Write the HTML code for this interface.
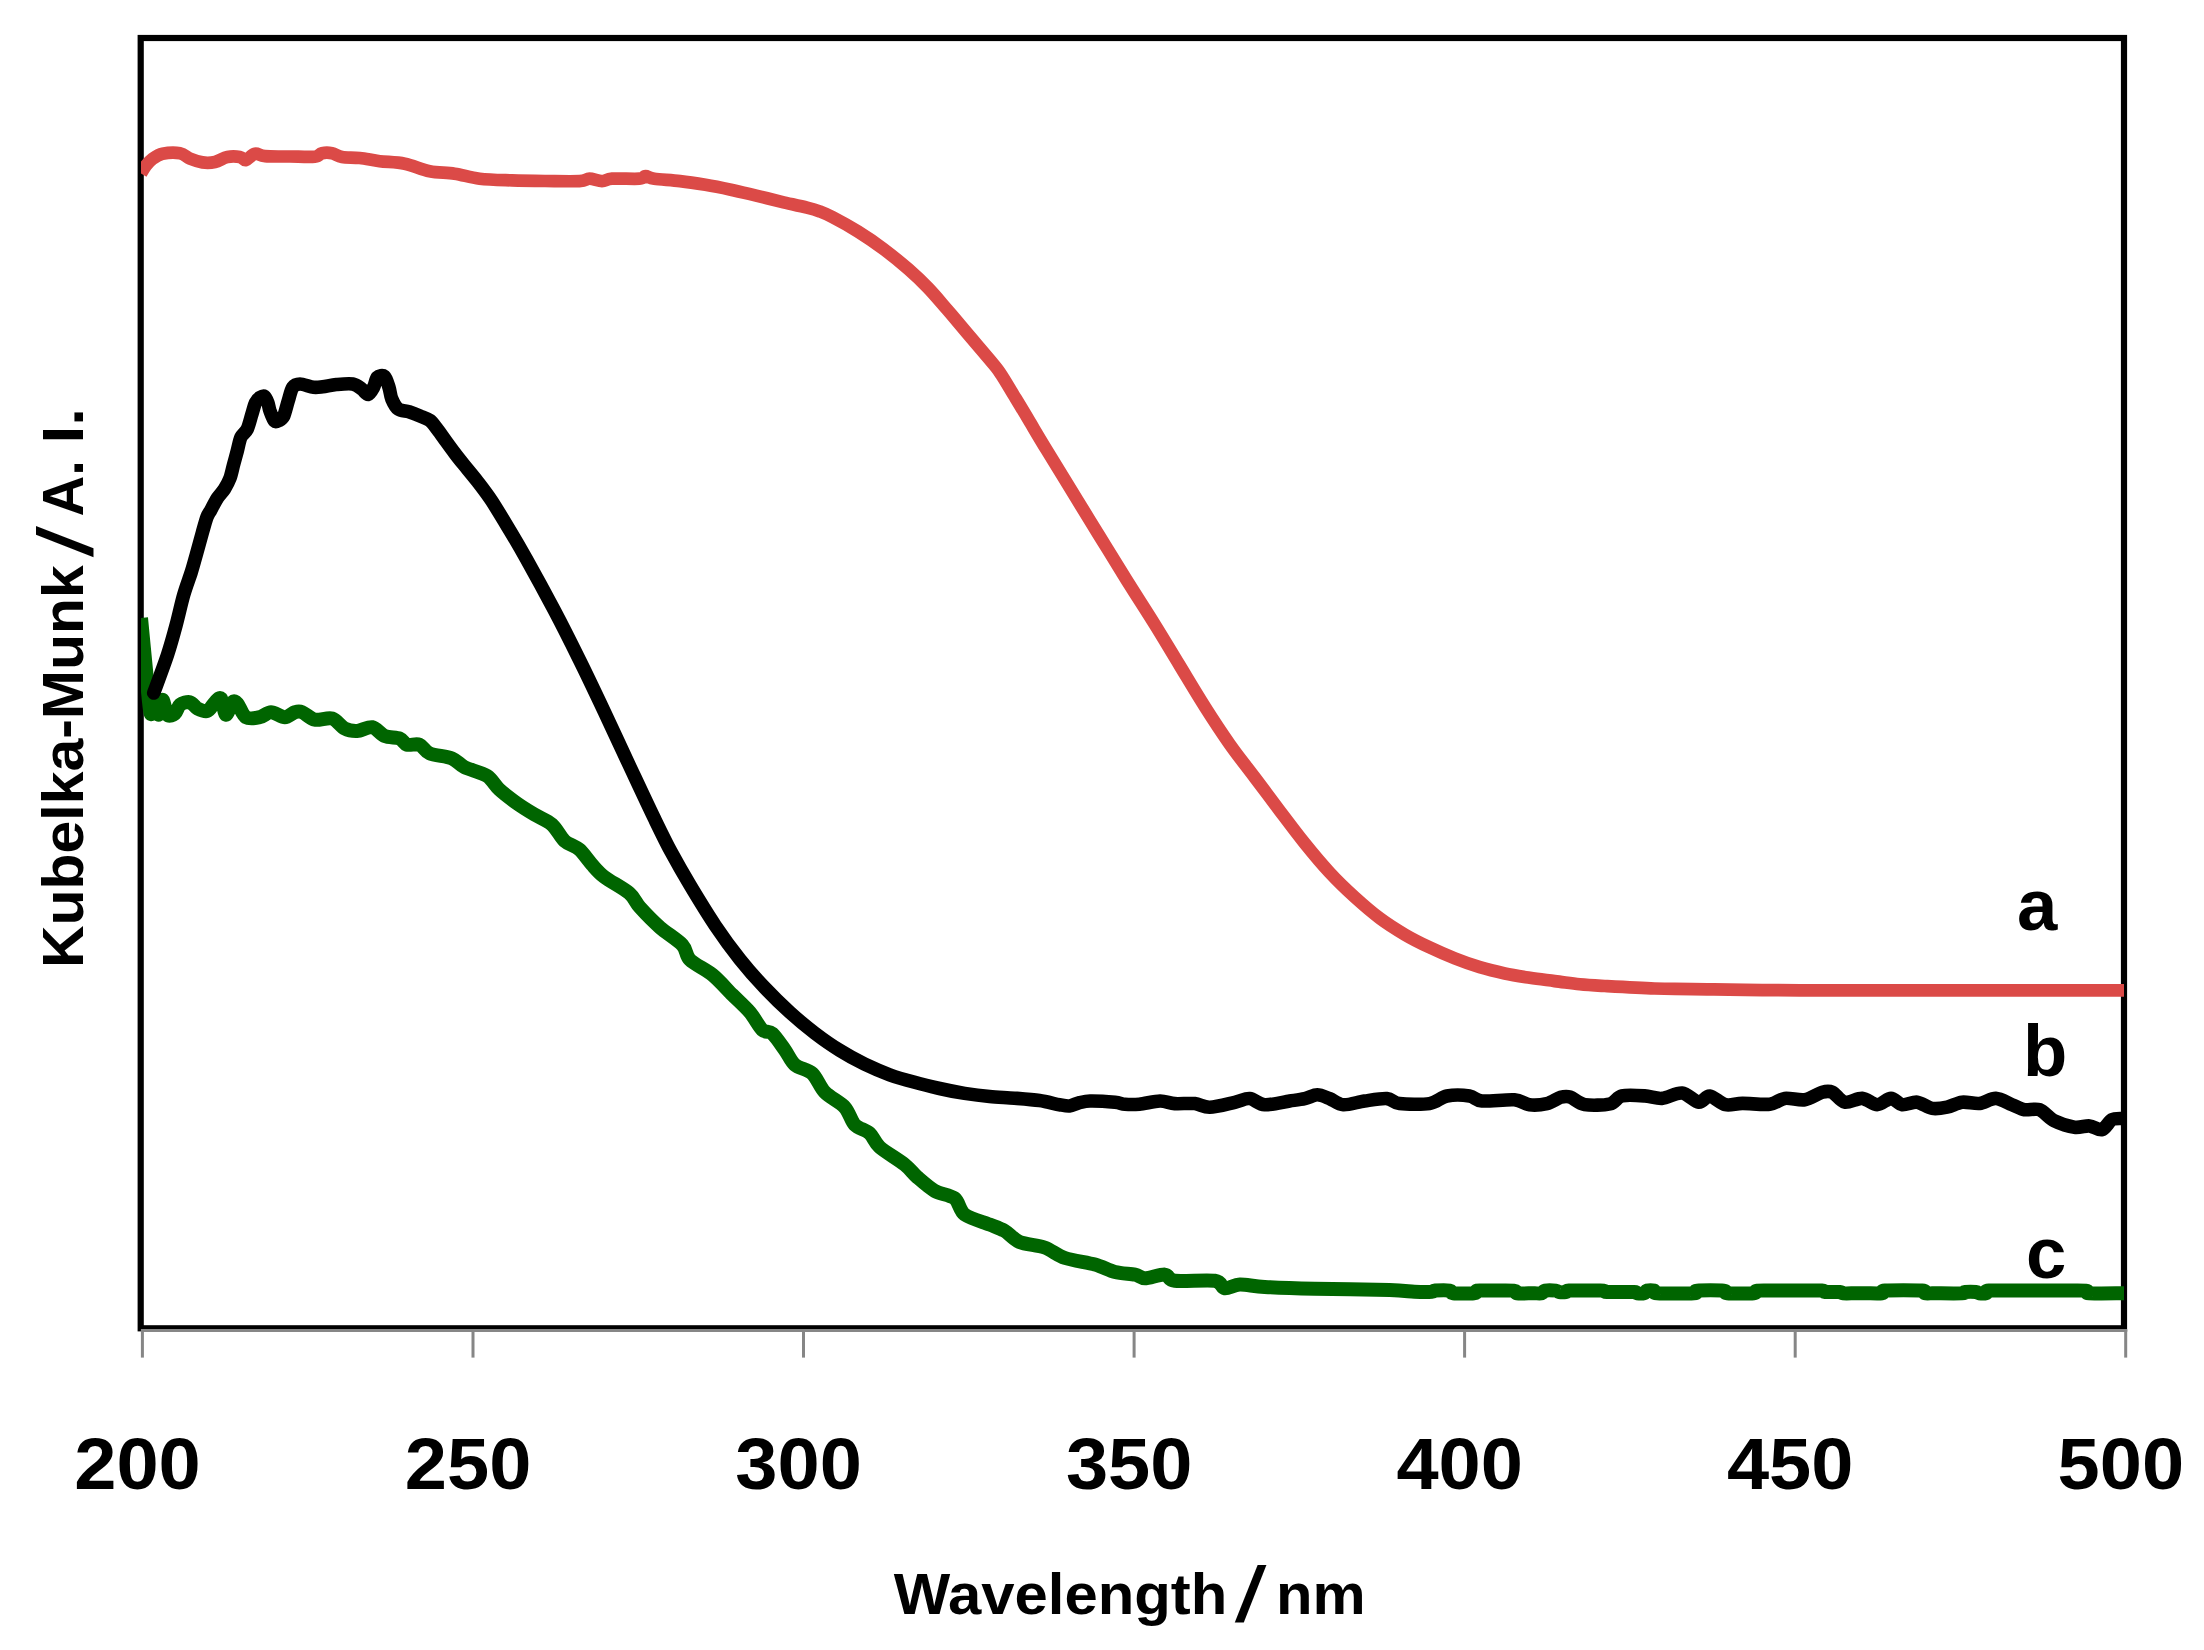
<!DOCTYPE html>
<html lang="en"><head><meta charset="utf-8"><title>Kubelka-Munk spectra</title>
<style>html,body{margin:0;padding:0;background:#fff;}svg{display:block;}</style>
</head><body>
<svg width="2204" height="1650" viewBox="0 0 2204 1650">
<rect x="0" y="0" width="2204" height="1650" fill="#fff"/>
<rect x="140.7" y="38" width="1983.3" height="1290.3" fill="none" stroke="#000" stroke-width="6.2"/>
<clipPath id="plot"><rect x="141" y="41" width="1983" height="1285"/></clipPath>
<g fill="none" stroke-linejoin="round" clip-path="url(#plot)">
<path d="M141.0 173.5 C141.8 172.2 144.1 167.9 146.0 165.5 C147.9 163.1 149.8 160.9 152.5 158.9 C155.2 156.9 157.9 154.6 162.5 153.7 C167.1 152.8 175.4 152.4 180.0 153.2 C184.6 154.0 186.3 157.2 190.0 158.7 C193.7 160.2 198.2 161.8 202.4 162.4 C206.6 163.0 210.8 162.9 215.0 162.0 C219.2 161.1 223.2 157.8 227.4 157.0 C231.6 156.2 236.9 156.5 240.0 157.0 C243.1 157.5 243.5 160.6 246.0 160.0 C248.5 159.4 251.8 154.3 255.0 153.7 C258.2 153.1 259.2 155.7 265.0 156.2 C270.8 156.7 281.7 156.4 290.0 156.5 C298.3 156.6 309.5 157.2 314.8 156.7 C320.1 156.1 319.1 153.8 322.0 153.2 C324.9 152.6 328.7 152.6 332.0 153.2 C335.3 153.8 337.4 156.2 342.0 157.0 C346.6 157.8 353.4 157.3 359.7 158.0 C366.0 158.7 372.2 160.2 379.7 161.2 C387.2 162.1 396.4 162.0 404.7 163.7 C413.0 165.4 421.3 169.5 429.6 171.2 C437.9 172.9 446.3 172.4 454.6 173.7 C462.9 174.9 470.0 177.6 479.6 178.7 C489.2 179.8 501.1 180.0 512.0 180.4 C522.9 180.8 533.8 180.9 545.0 181.0 C556.2 181.1 572.0 181.5 579.4 181.1 C586.8 180.7 585.6 178.7 589.4 178.7 C593.2 178.7 598.2 181.1 602.0 181.1 C605.8 181.1 605.8 179.1 612.0 178.7 C618.2 178.3 633.8 179.1 639.4 178.7 C645.0 178.3 643.1 176.2 645.6 176.2 C648.1 176.2 648.6 177.9 654.3 178.7 C660.0 179.5 671.5 180.1 680.0 181.1 C688.5 182.1 696.9 183.4 705.4 184.8 C713.9 186.2 722.3 187.9 730.8 189.7 C739.3 191.5 747.7 193.6 756.2 195.6 C764.7 197.6 773.1 199.7 781.6 201.8 C790.1 203.8 800.6 206.1 807.0 207.7 C813.4 209.3 815.5 209.9 819.8 211.4 C824.0 213.0 826.1 213.8 832.5 217.1 C838.9 220.4 849.4 226.2 857.9 231.5 C866.4 236.8 874.8 242.5 883.3 248.8 C891.8 255.2 901.3 263.0 908.7 269.4 C916.1 275.9 921.4 280.9 927.7 287.5 C934.1 294.1 940.3 301.6 946.8 309.1 C953.3 316.7 959.0 323.6 966.7 332.7 C974.5 341.9 987.5 357.0 993.3 364.0 C999.1 371.0 997.9 369.6 1001.3 374.7 C1004.7 379.8 1008.9 387.1 1013.5 394.7 C1018.1 402.3 1023.4 411.0 1028.9 420.3 C1034.4 429.5 1040.7 440.2 1046.7 450.0 C1052.7 459.9 1057.5 467.6 1064.8 479.5 C1072.0 491.3 1083.1 509.4 1090.2 521.0 C1097.3 532.6 1100.9 538.3 1107.5 549.0 C1114.1 559.7 1122.1 572.8 1130.0 585.4 C1137.9 598.0 1146.5 611.1 1154.8 624.5 C1163.1 637.8 1171.5 652.0 1179.8 665.6 C1188.1 679.3 1196.5 693.5 1204.8 706.6 C1213.1 719.7 1221.5 732.5 1229.8 744.3 C1238.1 756.1 1246.4 766.3 1254.7 777.4 C1263.0 788.4 1271.4 799.7 1279.7 810.7 C1288.0 821.7 1296.4 833.0 1304.7 843.3 C1313.0 853.6 1321.2 863.5 1329.6 872.5 C1338.0 881.6 1346.6 889.8 1355.0 897.4 C1363.4 905.0 1371.7 912.2 1380.0 918.4 C1388.3 924.6 1396.7 929.8 1405.0 934.7 C1413.3 939.6 1421.7 943.7 1430.0 947.6 C1438.3 951.6 1446.5 955.1 1454.8 958.4 C1463.1 961.7 1471.5 964.7 1479.8 967.2 C1488.1 969.7 1496.5 971.7 1504.8 973.5 C1513.1 975.3 1521.5 976.5 1529.8 977.8 C1538.1 979.1 1546.4 980.0 1554.7 981.1 C1563.0 982.1 1571.4 983.4 1579.7 984.3 C1588.0 985.1 1592.2 985.3 1604.7 986.0 C1617.2 986.7 1640.0 988.0 1654.6 988.5 C1669.1 989.0 1667.8 988.8 1692.0 989.1 C1716.2 989.3 1728.0 990.1 1800.0 990.3 C1872.0 990.5 2070.0 990.3 2124.0 990.3" stroke="#DB4A47" stroke-width="12.7" stroke-linecap="butt"/>
<path d="M141.0 618.0 C141.8 625.8 144.6 655.8 146.0 670.0 C147.4 684.2 149.2 707.8 150.5 713.0 C151.8 718.2 153.8 704.4 155.0 704.7 C156.2 705.0 157.6 715.4 158.7 714.7 C159.8 714.0 161.2 699.8 162.5 699.8 C163.8 699.8 165.6 712.6 167.5 714.7 C169.4 716.8 173.1 715.0 175.0 713.5 C176.9 712.0 177.8 706.4 180.0 704.7 C182.2 703.0 187.4 701.6 190.0 702.2 C192.6 702.8 194.8 707.2 197.4 708.5 C200.0 709.8 204.8 711.9 207.4 711.0 C210.0 710.1 213.0 704.1 215.0 702.2 C217.0 700.3 219.3 696.6 221.0 698.5 C222.7 700.4 224.3 714.1 226.0 714.7 C227.7 715.3 230.7 703.9 232.4 702.2 C234.1 700.5 235.4 701.2 237.4 703.5 C239.4 705.8 242.6 715.1 246.0 717.2 C249.4 719.3 256.1 718.0 259.8 717.2 C263.6 716.5 267.2 712.2 271.0 712.2 C274.8 712.2 281.2 717.2 284.8 717.2 C288.4 717.2 292.2 713.0 294.8 712.2 C297.4 711.5 299.3 711.1 302.3 712.2 C305.3 713.3 310.3 718.8 314.8 719.7 C319.3 720.6 327.7 717.2 332.2 718.5 C336.7 719.8 340.9 726.6 344.7 728.5 C348.4 730.4 353.1 731.2 357.2 731.0 C361.3 730.8 368.1 726.5 372.2 727.2 C376.3 728.0 380.6 734.3 384.7 736.0 C388.8 737.7 396.4 737.2 399.7 738.5 C403.0 739.8 404.0 743.8 407.0 744.7 C410.0 745.6 416.2 743.4 419.6 744.7 C423.0 746.0 424.7 751.3 429.6 753.4 C434.5 755.5 446.8 756.3 452.0 758.4 C457.2 760.5 459.4 764.6 464.6 767.2 C469.9 769.8 481.8 772.5 487.0 775.9 C492.2 779.3 495.0 785.5 499.5 789.6 C504.0 793.7 511.8 799.6 517.0 803.4 C522.2 807.1 529.2 811.4 534.5 814.6 C539.8 817.8 547.5 820.7 552.0 824.6 C556.5 828.5 560.4 837.0 564.5 840.8 C568.6 844.5 575.3 846.0 579.4 849.6 C583.5 853.2 588.1 860.4 591.9 864.5 C595.6 868.6 598.8 872.7 604.4 877.0 C610.0 881.3 624.1 888.7 629.4 893.3 C634.7 897.9 635.4 902.3 640.0 907.4 C644.6 912.5 653.6 921.8 660.0 927.4 C666.4 933.0 677.9 940.0 682.4 944.9 C686.9 949.8 685.5 955.4 690.0 959.9 C694.5 964.4 706.0 969.6 712.4 974.8 C718.8 980.0 726.8 989.2 732.4 994.8 C738.0 1000.4 745.4 1007.0 749.9 1012.3 C754.4 1017.5 758.9 1026.6 762.3 1029.8 C765.7 1033.0 768.9 1030.5 772.3 1033.5 C775.7 1036.5 781.4 1045.1 784.8 1049.8 C788.2 1054.5 790.7 1061.1 794.8 1064.7 C798.9 1068.3 807.8 1069.4 812.3 1073.5 C816.8 1077.6 819.9 1087.1 824.8 1092.2 C829.7 1097.3 840.2 1102.3 844.7 1107.2 C849.2 1112.1 851.0 1120.8 854.7 1124.7 C858.5 1128.6 866.0 1130.0 869.7 1133.4 C873.5 1136.8 874.5 1142.4 879.7 1147.1 C885.0 1151.8 899.1 1160.1 904.7 1164.6 C910.3 1169.1 912.7 1173.2 917.2 1177.1 C921.7 1181.0 929.0 1187.6 934.6 1190.8 C940.2 1194.0 950.1 1194.7 954.6 1198.3 C959.1 1201.9 959.4 1210.6 964.6 1214.5 C969.9 1218.4 983.6 1222.1 989.6 1224.5 C995.6 1226.9 1000.0 1228.2 1004.5 1230.8 C1009.0 1233.4 1013.5 1239.5 1019.5 1242.0 C1025.5 1244.5 1037.7 1245.1 1044.5 1247.5 C1051.3 1249.9 1057.4 1255.4 1065.0 1258.0 C1072.6 1260.6 1087.5 1262.5 1095.0 1264.6 C1102.5 1266.7 1109.0 1270.5 1115.0 1272.0 C1121.0 1273.5 1130.5 1273.7 1135.0 1274.6 C1139.5 1275.5 1140.5 1278.3 1145.0 1278.3 C1149.5 1278.3 1160.3 1274.2 1164.8 1274.6 C1169.3 1275.0 1167.3 1279.9 1174.8 1280.8 C1182.3 1281.7 1207.3 1279.7 1214.8 1280.8 C1222.3 1281.9 1221.0 1287.7 1224.8 1288.3 C1228.5 1288.9 1233.8 1284.8 1239.8 1284.6 C1245.8 1284.4 1253.5 1286.4 1264.7 1287.0 C1275.9 1287.6 1296.0 1288.3 1314.7 1288.8 C1333.4 1289.2 1374.6 1289.6 1389.6 1290.0 C1404.6 1290.4 1408.1 1291.4 1414.5 1291.7 C1420.9 1292.0 1428.9 1292.0 1432.0 1291.8 C1435.1 1291.6 1432.3 1290.8 1435.0 1290.6 C1437.7 1290.4 1447.3 1290.2 1450.0 1290.6 C1452.7 1291.0 1449.4 1292.9 1453.0 1293.3 C1456.6 1293.7 1470.4 1293.7 1474.0 1293.3 C1477.6 1292.9 1475.5 1291.0 1477.0 1290.6 C1478.5 1290.2 1482.5 1290.6 1484.0 1290.6 C1485.5 1290.6 1482.5 1290.6 1487.0 1290.6 C1491.5 1290.6 1509.5 1290.2 1514.0 1290.6 C1518.5 1291.0 1514.3 1292.9 1517.0 1293.3 C1519.7 1293.7 1529.3 1293.3 1532.0 1293.3 C1534.7 1293.3 1533.5 1293.3 1535.0 1293.3 C1536.5 1293.3 1540.5 1293.7 1542.0 1293.3 C1543.5 1292.9 1542.9 1291.0 1545.0 1290.6 C1547.1 1290.2 1553.9 1290.4 1556.0 1290.6 C1558.1 1290.8 1557.5 1291.8 1559.0 1292.0 C1560.5 1292.2 1564.5 1292.2 1566.0 1292.0 C1567.5 1291.8 1565.4 1290.8 1569.0 1290.6 C1572.6 1290.4 1586.4 1290.6 1590.0 1290.6 C1593.6 1290.6 1590.9 1290.6 1593.0 1290.6 C1595.1 1290.6 1601.9 1290.4 1604.0 1290.6 C1606.1 1290.8 1602.5 1291.8 1607.0 1292.0 C1611.5 1292.2 1629.5 1291.8 1634.0 1292.0 C1638.5 1292.2 1635.5 1293.1 1637.0 1293.3 C1638.5 1293.5 1642.5 1293.7 1644.0 1293.3 C1645.5 1292.9 1645.5 1291.0 1647.0 1290.6 C1648.5 1290.2 1652.5 1290.2 1654.0 1290.6 C1655.5 1291.0 1651.0 1292.9 1657.0 1293.3 C1663.0 1293.7 1688.0 1293.7 1694.0 1293.3 C1700.0 1292.9 1692.5 1291.0 1697.0 1290.6 C1701.5 1290.2 1719.5 1290.2 1724.0 1290.6 C1728.5 1291.0 1722.5 1292.9 1727.0 1293.3 C1731.5 1293.7 1749.5 1293.7 1754.0 1293.3 C1758.5 1292.9 1753.4 1291.0 1757.0 1290.6 C1760.6 1290.2 1774.4 1290.6 1778.0 1290.6 C1781.6 1290.6 1778.9 1290.6 1781.0 1290.6 C1783.1 1290.6 1789.9 1290.6 1792.0 1290.6 C1794.1 1290.6 1790.5 1290.6 1795.0 1290.6 C1799.5 1290.6 1817.5 1290.4 1822.0 1290.6 C1826.5 1290.8 1822.3 1291.8 1825.0 1292.0 C1827.7 1292.2 1837.3 1291.8 1840.0 1292.0 C1842.7 1292.2 1840.9 1293.1 1843.0 1293.3 C1845.1 1293.5 1851.9 1293.3 1854.0 1293.3 C1856.1 1293.3 1855.5 1293.3 1857.0 1293.3 C1858.5 1293.3 1862.5 1293.3 1864.0 1293.3 C1865.5 1293.3 1864.3 1293.3 1867.0 1293.3 C1869.7 1293.3 1879.3 1293.7 1882.0 1293.3 C1884.7 1292.9 1879.0 1291.0 1885.0 1290.6 C1891.0 1290.2 1916.0 1290.2 1922.0 1290.6 C1928.0 1291.0 1923.5 1292.9 1925.0 1293.3 C1926.5 1293.7 1930.5 1293.3 1932.0 1293.3 C1933.5 1293.3 1930.5 1293.3 1935.0 1293.3 C1939.5 1293.3 1957.5 1293.5 1962.0 1293.3 C1966.5 1293.1 1962.9 1292.2 1965.0 1292.0 C1967.1 1291.8 1973.9 1291.8 1976.0 1292.0 C1978.1 1292.2 1977.5 1293.1 1979.0 1293.3 C1980.5 1293.5 1984.5 1293.7 1986.0 1293.3 C1987.5 1292.9 1983.0 1291.0 1989.0 1290.6 C1995.0 1290.2 2020.0 1290.6 2026.0 1290.6 C2032.0 1290.6 2024.5 1290.6 2029.0 1290.6 C2033.5 1290.6 2051.5 1290.6 2056.0 1290.6 C2060.5 1290.6 2054.5 1290.6 2059.0 1290.6 C2063.5 1290.6 2081.5 1290.2 2086.0 1290.6 C2090.5 1291.0 2083.3 1292.9 2089.0 1293.3 C2094.7 1293.7 2118.8 1293.2 2124.0 1293.2" stroke="#006500" stroke-width="14" stroke-linecap="butt"/>
<path d="M153.7 693.0 C155.8 687.3 164.1 665.0 167.5 654.8 C170.9 644.6 173.8 633.8 176.2 624.8 C178.6 615.8 181.4 602.8 183.7 594.9 C185.9 587.0 189.3 578.4 191.2 572.4 C193.1 566.4 194.5 561.0 196.2 555.0 C197.9 549.0 200.8 538.2 202.4 532.5 C204.0 526.8 205.7 520.4 207.0 517.0 C208.3 513.6 209.4 512.8 210.9 510.0 C212.4 507.2 215.3 501.3 217.3 498.2 C219.3 495.1 222.6 492.0 224.5 489.0 C226.4 486.0 228.6 481.9 230.0 478.2 C231.4 474.5 232.5 468.6 233.6 464.5 C234.7 460.4 236.2 455.0 237.3 450.9 C238.4 446.8 239.4 440.6 240.9 437.3 C242.4 434.0 245.7 432.4 247.3 429.0 C248.9 425.6 250.6 418.4 251.8 414.5 C253.0 410.6 254.3 405.2 255.5 402.7 C256.7 400.1 258.6 398.4 260.0 397.5 C261.4 396.6 263.3 395.6 264.5 396.4 C265.7 397.2 267.2 400.8 268.0 403.0 C268.8 405.2 269.0 408.3 270.0 411.0 C271.0 413.7 273.1 419.6 274.5 421.0 C275.9 422.4 277.6 421.2 279.0 420.5 C280.4 419.8 282.2 419.3 283.6 416.4 C285.0 413.5 286.8 405.4 288.2 401.0 C289.6 396.6 290.9 389.9 292.7 387.3 C294.5 384.8 296.9 384.0 300.0 384.0 C303.1 384.0 310.2 386.9 313.6 387.3 C317.0 387.7 319.3 387.2 322.7 386.8 C326.1 386.4 331.9 384.9 336.4 384.5 C340.9 384.1 348.9 383.3 352.7 384.0 C356.5 384.7 359.5 387.4 361.8 389.0 C364.1 390.6 366.4 394.8 368.2 394.5 C370.0 394.2 372.2 389.9 373.6 387.3 C375.0 384.7 375.7 378.9 377.3 377.3 C378.9 375.7 382.7 374.9 384.5 376.4 C386.3 377.9 387.9 383.9 389.0 387.3 C390.1 390.7 390.4 395.7 391.8 399.0 C393.2 402.3 395.6 407.1 398.2 409.0 C400.8 410.9 405.7 410.8 409.0 411.8 C412.3 412.9 416.9 414.7 420.0 416.0 C423.1 417.3 427.4 418.5 430.0 420.5 C432.6 422.5 435.1 426.4 437.5 429.5 C439.9 432.6 443.4 437.7 446.0 441.3 C448.6 444.9 452.4 450.1 455.0 453.5 C457.6 457.0 460.1 460.1 463.5 464.3 C466.9 468.5 473.4 476.2 477.6 481.6 C481.8 487.1 486.4 493.0 491.3 500.3 C496.2 507.7 504.7 521.9 510.0 530.7 C515.3 539.5 519.7 547.0 526.4 559.0 C533.1 571.0 546.5 595.5 554.5 610.6 C562.5 625.7 571.9 644.5 579.4 659.7 C586.9 674.8 596.9 695.9 604.4 711.8 C611.9 727.7 621.9 749.5 629.4 765.5 C636.9 781.5 648.0 805.4 654.3 818.3 C660.6 831.3 665.8 842.1 671.2 852.1 C676.6 862.1 683.4 874.1 690.0 885.1 C696.6 896.1 707.5 914.1 715.0 925.2 C722.5 936.4 732.5 950.0 740.0 959.4 C747.5 968.8 757.3 979.9 764.8 987.8 C772.3 995.8 782.3 1005.5 789.8 1012.3 C797.3 1019.1 807.3 1027.4 814.8 1033.1 C822.3 1038.8 832.3 1045.8 839.8 1050.4 C847.3 1055.1 857.2 1060.5 864.7 1064.2 C872.2 1067.8 882.2 1072.1 889.7 1074.8 C897.2 1077.5 907.2 1080.3 914.7 1082.3 C922.2 1084.4 932.1 1086.8 939.6 1088.5 C947.1 1090.2 957.1 1092.2 964.6 1093.4 C972.1 1094.6 982.1 1095.9 989.6 1096.6 C997.1 1097.3 1007.0 1097.6 1014.5 1098.2 C1022.0 1098.8 1032.8 1099.6 1039.5 1100.6 C1046.2 1101.5 1055.0 1103.9 1059.5 1104.7 C1064.0 1105.5 1066.5 1106.2 1069.5 1105.9 C1072.5 1105.6 1076.4 1103.4 1079.5 1102.7 C1082.6 1102.0 1084.7 1101.1 1090.0 1101.0 C1095.3 1100.9 1109.8 1101.8 1115.0 1102.3 C1120.2 1102.8 1121.3 1104.0 1125.0 1104.3 C1128.7 1104.6 1134.2 1104.7 1139.4 1104.2 C1144.7 1103.7 1154.7 1101.1 1160.0 1101.0 C1165.3 1100.9 1169.6 1103.2 1174.8 1103.6 C1180.0 1104.0 1189.5 1103.0 1194.8 1103.6 C1200.0 1104.2 1203.8 1107.5 1209.8 1107.3 C1215.8 1107.1 1228.8 1103.6 1234.8 1102.3 C1240.8 1101.0 1245.2 1098.2 1249.7 1098.6 C1254.2 1099.0 1258.7 1104.4 1264.7 1104.8 C1270.7 1105.2 1283.7 1101.9 1289.7 1101.0 C1295.7 1100.1 1300.6 1099.5 1304.7 1098.6 C1308.8 1097.7 1313.5 1094.8 1317.2 1094.8 C1320.9 1094.8 1325.7 1097.1 1329.6 1098.6 C1333.5 1100.1 1338.2 1104.4 1343.4 1104.8 C1348.7 1105.2 1358.1 1101.9 1364.6 1101.0 C1371.1 1100.1 1381.8 1098.2 1387.0 1098.6 C1392.2 1099.0 1393.1 1102.8 1399.5 1103.6 C1405.9 1104.3 1422.4 1104.7 1429.5 1103.6 C1436.6 1102.5 1441.0 1097.1 1447.0 1096.0 C1453.0 1094.9 1464.2 1095.2 1469.5 1096.0 C1474.8 1096.8 1475.3 1100.4 1482.0 1101.0 C1488.7 1101.6 1507.3 1099.2 1514.4 1099.8 C1521.5 1100.4 1524.5 1104.2 1529.4 1104.8 C1534.3 1105.4 1542.2 1104.7 1546.9 1103.6 C1551.6 1102.5 1557.1 1098.3 1560.6 1097.3 C1564.1 1096.3 1566.4 1095.9 1570.0 1097.0 C1573.6 1098.1 1578.7 1103.5 1584.7 1104.6 C1590.7 1105.6 1604.1 1105.3 1609.7 1104.0 C1615.3 1102.7 1616.8 1097.1 1622.0 1095.9 C1627.2 1094.7 1638.6 1095.5 1644.6 1095.9 C1650.6 1096.3 1656.4 1098.8 1662.0 1098.4 C1667.6 1098.0 1676.5 1092.4 1682.0 1093.0 C1687.5 1093.6 1694.5 1101.8 1698.7 1102.2 C1702.9 1102.7 1705.7 1095.6 1709.7 1096.0 C1713.7 1096.4 1720.6 1103.6 1725.5 1104.7 C1730.4 1105.8 1735.7 1103.5 1742.4 1103.4 C1749.1 1103.3 1763.5 1105.0 1769.9 1104.2 C1776.3 1103.5 1779.6 1099.1 1784.8 1098.4 C1790.0 1097.7 1799.2 1100.6 1804.8 1099.7 C1810.4 1098.8 1818.2 1093.3 1822.3 1092.2 C1826.4 1091.1 1828.9 1090.7 1832.3 1092.2 C1835.7 1093.7 1840.3 1101.3 1844.8 1102.2 C1849.3 1103.1 1857.3 1098.0 1862.2 1098.4 C1867.1 1098.8 1872.9 1104.7 1877.2 1104.7 C1881.5 1104.7 1887.2 1098.4 1891.0 1098.4 C1894.8 1098.4 1898.3 1104.1 1902.2 1104.7 C1906.1 1105.3 1912.7 1101.6 1917.2 1102.2 C1921.7 1102.8 1927.6 1107.7 1932.1 1108.4 C1936.6 1109.2 1942.6 1108.1 1947.1 1107.2 C1951.6 1106.3 1957.2 1102.8 1962.1 1102.2 C1967.0 1101.6 1974.5 1104.0 1979.6 1103.4 C1984.7 1102.8 1990.9 1098.2 1995.8 1098.4 C2000.7 1098.6 2007.7 1103.0 2012.0 1104.7 C2016.3 1106.4 2020.4 1109.0 2024.5 1109.7 C2028.6 1110.5 2035.0 1108.0 2039.5 1109.7 C2044.0 1111.4 2049.2 1118.3 2054.5 1120.9 C2059.8 1123.5 2069.2 1126.5 2074.5 1127.2 C2079.8 1128.0 2085.4 1125.5 2089.5 1125.9 C2093.6 1126.3 2098.5 1130.6 2101.9 1129.7 C2105.3 1128.8 2108.9 1121.4 2111.9 1119.7 C2114.9 1118.0 2120.4 1118.6 2121.9 1118.4" stroke="#000" stroke-width="13.6" stroke-linecap="round"/>
</g>
<rect x="140.9" y="1329" width="1986.3" height="2.9" fill="#868686"/>
<rect x="140.9" y="1330" width="3" height="27.6" fill="#868686"/>
<rect x="471.5" y="1330" width="3" height="27.6" fill="#868686"/>
<rect x="802.0" y="1330" width="3" height="27.6" fill="#868686"/>
<rect x="1132.6" y="1330" width="3" height="27.6" fill="#868686"/>
<rect x="1463.1" y="1330" width="3" height="27.6" fill="#868686"/>
<rect x="1793.7" y="1330" width="3" height="27.6" fill="#868686"/>
<rect x="2124.2" y="1330" width="3" height="27.6" fill="#868686"/>
<g font-family="'Liberation Sans', Arial, sans-serif" font-weight="700" fill="#000">
<text x="137.5" y="1489" font-size="72.5" text-anchor="middle" textLength="126.5" lengthAdjust="spacingAndGlyphs">200</text>
<text x="468.1" y="1489" font-size="72.5" text-anchor="middle" textLength="126.5" lengthAdjust="spacingAndGlyphs">250</text>
<text x="798.6" y="1489" font-size="72.5" text-anchor="middle" textLength="126.5" lengthAdjust="spacingAndGlyphs">300</text>
<text x="1129.2" y="1489" font-size="72.5" text-anchor="middle" textLength="126.5" lengthAdjust="spacingAndGlyphs">350</text>
<text x="1459.7" y="1489" font-size="72.5" text-anchor="middle" textLength="126.5" lengthAdjust="spacingAndGlyphs">400</text>
<text x="1790.2" y="1489" font-size="72.5" text-anchor="middle" textLength="126.5" lengthAdjust="spacingAndGlyphs">450</text>
<text x="2120.8" y="1489" font-size="72.5" text-anchor="middle" textLength="126.5" lengthAdjust="spacingAndGlyphs">500</text>
<text x="893.70" y="1613.5" font-size="57" textLength="333.66" lengthAdjust="spacingAndGlyphs">Wavelength</text>
<text x="1234.7" y="1621.8" font-size="77.4" font-weight="400" textLength="31.7" lengthAdjust="spacingAndGlyphs">/</text>
<text x="1276.05" y="1613.5" font-size="57" textLength="89.66" lengthAdjust="spacingAndGlyphs">nm</text>
<g transform="translate(83.2,965) rotate(-90)">
<text x="-3.10" y="0.0" font-size="57" textLength="402.79" lengthAdjust="spacingAndGlyphs">Kubelka-Munk</text>
<text x="407.8" y="9.6" font-size="77.4" font-weight="400" textLength="31.2" lengthAdjust="spacingAndGlyphs">/</text>
<text x="448.51" y="0.0" font-size="57" textLength="56.27" lengthAdjust="spacingAndGlyphs">A.</text>
<text x="521.44" y="0.0" font-size="57" textLength="35.45" lengthAdjust="spacingAndGlyphs">I.</text>
</g>
<text x="2017" y="930" font-size="72.5">a</text>
<text x="2023" y="1076" font-size="72.5">b</text>
<text x="2026" y="1277.7" font-size="72.5">c</text>
</g>
</svg>
</body></html>
